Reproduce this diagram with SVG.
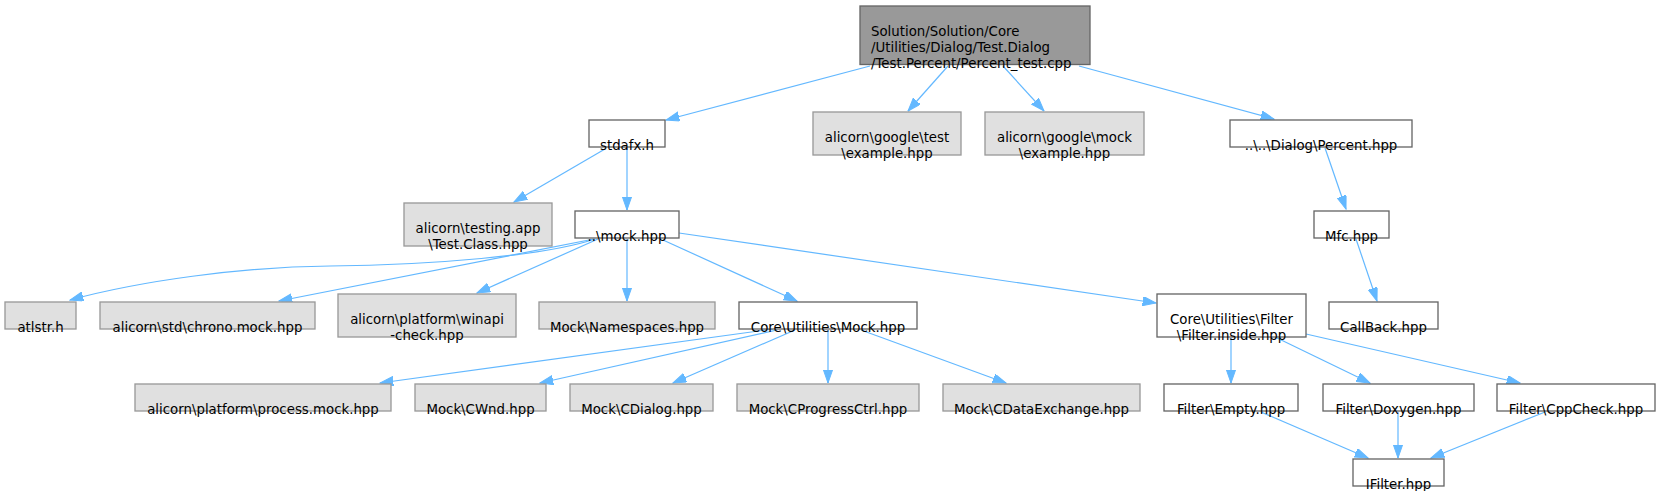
<svg xmlns="http://www.w3.org/2000/svg" width="1659" height="491" viewBox="0 0 1659 491">
<style>
.n rect{stroke-width:1.33}
.w rect{fill:#ffffff;stroke:#666666}
.g rect{fill:#e0e0e0;stroke:#999999}
.r rect{fill:#999999;stroke:#666666}
text{font-family:"DejaVu Sans","Liberation Sans",sans-serif;font-size:13.33px;fill:#000000;text-anchor:middle}
.r text{text-anchor:start}
#edges path{fill:none;stroke:#63b8ff;stroke-width:1.2;marker-end:url(#ah)}
</style>
<defs>
<marker id="ah" markerUnits="userSpaceOnUse" markerWidth="14" markerHeight="10" refX="13.3" refY="4.67" orient="auto">
<path d="M0,0 L13.3,4.67 L0,9.33 z" fill="#63b8ff" stroke="#63b8ff" stroke-width="1"/>
</marker>
</defs>
<rect width="1659" height="491" fill="#ffffff"/>
<g id="edges">
<path d="M870,66 L666,120"/>
<path d="M948,66 L908,111"/>
<path d="M1003,66 L1044,111"/>
<path d="M1079,66 L1274,119"/>
<path d="M605,149 L514,202"/>
<path d="M627,148 L627,210"/>
<path d="M1325,148 L1346,209"/>
<path d="M1356,239 L1377,301"/>
<path d="M595,239 C545,256 430,265 330,266 C240,267 140,281 70,300"/>
<path d="M594,239 L279,301"/>
<path d="M598,239 L477,293"/>
<path d="M627,239 L627,301"/>
<path d="M663,240 L797,301"/>
<path d="M679,233 L1156,303"/>
<path d="M773,329 L380,383"/>
<path d="M777,330 L540,383"/>
<path d="M795,330 L673,383"/>
<path d="M828,330 L828,383"/>
<path d="M861,330 L1006,383"/>
<path d="M1231,338 L1231,383"/>
<path d="M1275,337 L1370,383"/>
<path d="M1306,334 L1520,383"/>
<path d="M1261,412 L1368,458"/>
<path d="M1398,412 L1398,458"/>
<path d="M1545,412 L1431,458"/>
</g>
<g id="root" class="n r"><rect x="860" y="6" width="230" height="58.5"/><text x="871" y="35.5">Solution/Solution/Core</text><text x="871" y="51.5">/Utilities/Dialog/Test.Dialog</text><text x="871" y="67.5">/Test.Percent/Percent_test.cpp</text></g>
<g id="stdafx" class="n w"><rect x="589" y="120" width="76" height="27"/><text x="627" y="149.5">stdafx.h</text></g>
<g id="gtest" class="n g"><rect x="813" y="112" width="148" height="43"/><text x="887" y="141.5">alicorn\google\test</text><text x="887" y="157.5">\example.hpp</text></g>
<g id="gmock" class="n g"><rect x="985" y="112" width="159" height="43"/><text x="1064.5" y="141.5">alicorn\google\mock</text><text x="1064.5" y="157.5">\example.hpp</text></g>
<g id="percent" class="n w"><rect x="1230" y="120" width="182" height="27"/><text x="1321" y="149.5">..\..\Dialog\Percent.hpp</text></g>
<g id="testing" class="n g"><rect x="404" y="203" width="148" height="43"/><text x="478" y="232.5">alicorn\testing.app</text><text x="478" y="248.5">\Test.Class.hpp</text></g>
<g id="mock" class="n w"><rect x="575" y="211" width="104" height="27"/><text x="627" y="240.5">..\mock.hpp</text></g>
<g id="mfc" class="n w"><rect x="1314" y="211" width="75" height="27"/><text x="1351.5" y="240.5">Mfc.hpp</text></g>
<g id="atlstr" class="n g"><rect x="5" y="302" width="71" height="27"/><text x="40.5" y="331.5">atlstr.h</text></g>
<g id="chrono" class="n g"><rect x="100" y="302" width="215" height="27"/><text x="207.5" y="331.5">alicorn\std\chrono.mock.hpp</text></g>
<g id="winapi" class="n g"><rect x="338" y="294" width="178" height="43"/><text x="427" y="323.5">alicorn\platform\winapi</text><text x="427" y="339.5">-check.hpp</text></g>
<g id="namespaces" class="n g"><rect x="539" y="302" width="176" height="27"/><text x="627" y="331.5">Mock\Namespaces.hpp</text></g>
<g id="coremock" class="n w"><rect x="739" y="302" width="178" height="27"/><text x="828" y="331.5">Core\Utilities\Mock.hpp</text></g>
<g id="filterinside" class="n w"><rect x="1157" y="294" width="149" height="43"/><text x="1231.5" y="323.5">Core\Utilities\Filter</text><text x="1231.5" y="339.5">\Filter.inside.hpp</text></g>
<g id="callback" class="n w"><rect x="1329" y="302" width="109" height="27"/><text x="1383.5" y="331.5">CallBack.hpp</text></g>
<g id="process" class="n g"><rect x="135" y="384" width="256" height="27"/><text x="263" y="413.5">alicorn\platform\process.mock.hpp</text></g>
<g id="cwnd" class="n g"><rect x="415" y="384" width="131" height="27"/><text x="480.5" y="413.5">Mock\CWnd.hpp</text></g>
<g id="cdialog" class="n g"><rect x="570" y="384" width="143" height="27"/><text x="641.5" y="413.5">Mock\CDialog.hpp</text></g>
<g id="cprogress" class="n g"><rect x="737" y="384" width="182" height="27"/><text x="828" y="413.5">Mock\CProgressCtrl.hpp</text></g>
<g id="cdataexchange" class="n g"><rect x="943" y="384" width="197" height="27"/><text x="1041.5" y="413.5">Mock\CDataExchange.hpp</text></g>
<g id="empty" class="n w"><rect x="1164" y="384" width="134" height="27"/><text x="1231" y="413.5">Filter\Empty.hpp</text></g>
<g id="doxygen" class="n w"><rect x="1323" y="384" width="151" height="27"/><text x="1398.5" y="413.5">Filter\Doxygen.hpp</text></g>
<g id="cppcheck" class="n w"><rect x="1497" y="384" width="158" height="27"/><text x="1576" y="413.5">Filter\CppCheck.hpp</text></g>
<g id="ifilter" class="n w"><rect x="1353" y="459" width="91" height="27"/><text x="1398.5" y="488.5">IFilter.hpp</text></g>
</svg>
